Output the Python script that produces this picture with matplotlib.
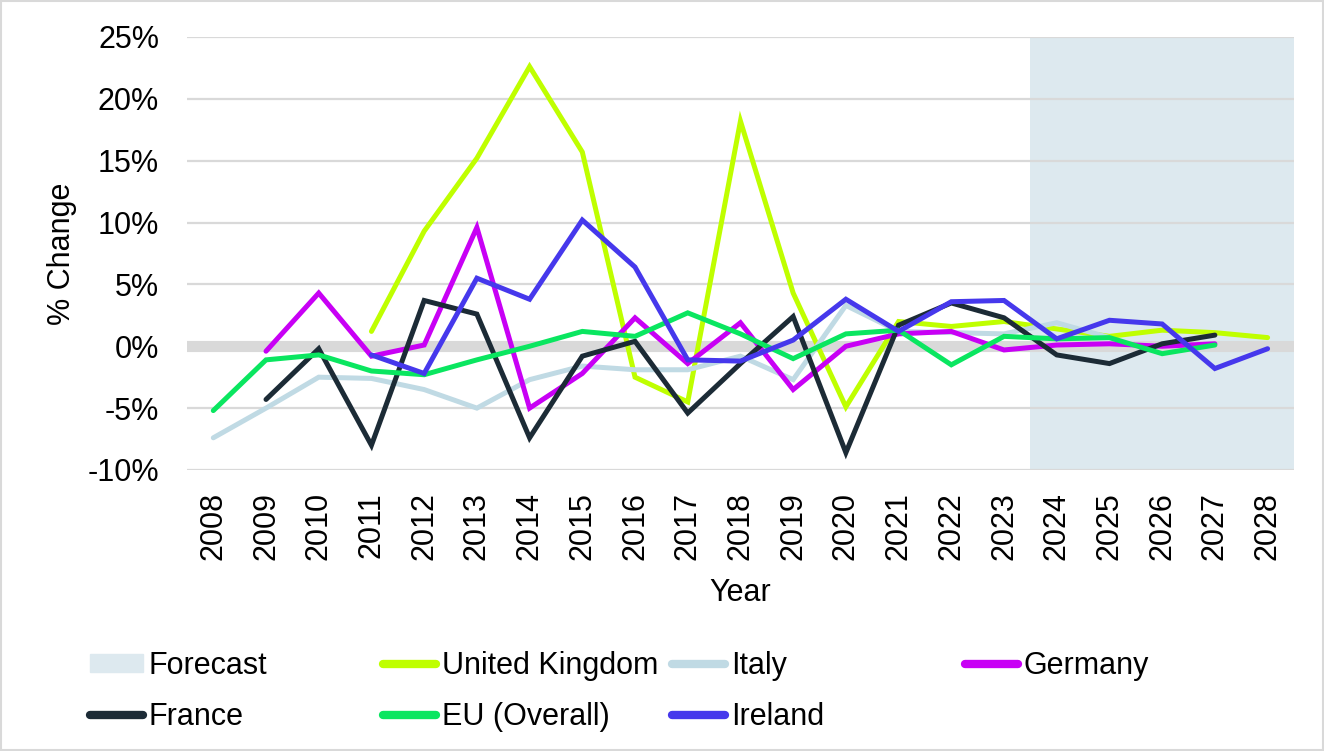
import numpy as np
import matplotlib
matplotlib.use('Agg')
import matplotlib.pyplot as plt
from matplotlib.lines import Line2D
from matplotlib.patches import Patch, Rectangle

plt.rcParams['font.family'] = ['Liberation Sans', 'DejaVu Sans']

nan = np.nan
years = list(range(2008, 2029))
forecast_start = 2024

# % change by year, 2008..2028 (nan = no data)
uk = [nan, nan, nan, 1.2, 9.3, 15.2, 22.6, 15.7, -2.5, -4.5, 18.2, 4.3, -4.9, 2.0,
      1.6, 2.0, 1.4, 0.8, 1.3, 1.1, 0.7]
italy = [-7.4, -5.0, -2.5, -2.6, -3.5, -5.0, -2.7, -1.6, -1.9, -1.9, -0.8, -2.7, 3.3, 1.2,
         1.1, 1.0, 1.9, 0.7, nan, nan, nan]
germany = [nan, -0.4, 4.3, -0.8, 0.1, 9.6, -5.0, -2.2, 2.3, -1.4, 1.9, -3.5, 0.0, 1.0,
           1.2, -0.3, 0.1, 0.2, 0.0, 0.2, nan]
france = [nan, -4.3, -0.2, -8.0, 3.7, 2.6, -7.4, -0.8, 0.4, -5.4, -1.4, 2.4, -8.6, 1.7,
          3.5, 2.3, -0.7, -1.4, 0.2, 0.9, nan]
eu = [-5.2, -1.1, -0.7, -2.0, -2.3, -1.1, 0.0, 1.2, 0.8, 2.7, 1.0, -1.0, 1.0, 1.3,
      -1.5, 0.8, 0.6, 0.7, -0.6, 0.1, nan]
ireland = [nan, nan, nan, -0.7, -2.2, 5.5, 3.8, 10.2, 6.4, -1.1, -1.2, 0.5, 3.8, 1.2,
           3.6, 3.7, 0.6, 2.1, 1.8, -1.8, -0.2]

series = [
    ('United Kingdom', uk, '#BFFF00'),
    ('Italy', italy, '#C0DAE4'),
    ('Germany', germany, '#C800F5'),
    ('France', france, '#1C2B36'),
    ('EU (Overall)', eu, '#0AE660'),
    ('Ireland', ireland, '#4638EC'),
]

fig = plt.figure(figsize=(13.24, 7.51), dpi=100)
ax = fig.add_axes([0.1412, 0.3742, 0.8361, 0.5766])

shade_col = '#DDE9EF'
ax.axvspan(forecast_start - 0.5, years[-1] + 0.5, color=shade_col, lw=0, zorder=0)

yt = np.arange(-10, 26, 5)
for v in yt:
    ax.axhline(v, color='#D9D9D9', lw=1.6, zorder=1)
ax.axhline(0, color='#D9D9D9', lw=8, zorder=1)

lines = {}
for name, vals, col in series:
    l, = ax.plot(years, vals, color=col, lw=3.6, solid_capstyle='round',
                 solid_joinstyle='miter', zorder=3)
    lines[name] = l

ax.set_xlim(years[0] - 0.5, years[-1] + 0.5)
ax.set_ylim(-10, 25)
ax.set_yticks(yt)
ax.set_yticklabels(['%d%%' % v for v in yt])
ax.set_xticks(years)
ax.set_xticklabels([str(y) for y in years], rotation=90)
ax.tick_params(axis='both', length=0, labelsize=22)
ax.tick_params(axis='y', pad=20)
ax.tick_params(axis='x', pad=16)
for s in ax.spines.values():
    s.set_visible(False)

ax.set_ylabel('% Change', fontsize=22)
ax.yaxis.set_label_coords(-0.099, 0.5)
ax.set_xlabel('Year', fontsize=22)
ax.xaxis.set_label_coords(0.5, -0.25)

# legend: four columns of equal width, like the original
lh = lambda n: Line2D([], [], color=lines[n].get_color(), lw=6, solid_capstyle='round')
cols = [
    ([Patch(color=shade_col), lh('France')], ['Forecast', 'France']),
    ([lh('United Kingdom'), lh('EU (Overall)')], ['United Kingdom', 'EU (Overall)']),
    ([lh('Italy'), lh('Ireland')], ['Italy', 'Ireland']),
    ([lh('Germany')], ['Germany']),
]
col_x = [90, 383, 672, 965]
for (h, lab), x in zip(cols, col_x):
    leg = fig.legend(h, lab, loc='upper left', bbox_to_anchor=(x / 1324, 1 - 651 / 751),
                     frameon=False, fontsize=22, handlelength=1.75, handletextpad=0.17,
                     borderpad=0, borderaxespad=0, labelspacing=0.68, handleheight=0.55)

fig.patches.append(Rectangle((0.001, 0.001), 0.998, 0.998, transform=fig.transFigure,
                             fill=False, edgecolor='#D9D9D9', lw=1.5))

fig.savefig('out.png', dpi=100)
